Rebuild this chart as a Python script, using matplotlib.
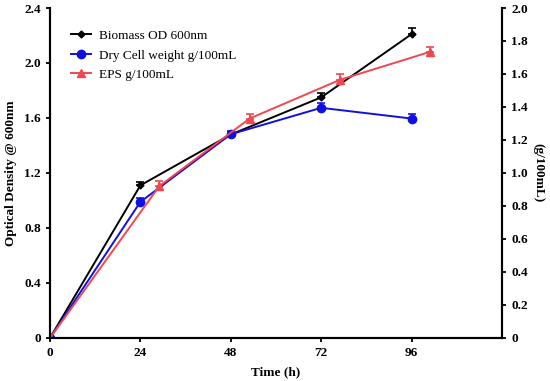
import numpy as np
import matplotlib.pyplot as plt

plt.rcParams['font.family'] = 'Liberation Serif'

# Biomass OD 600nm (left axis)
od_time = [0, 24, 48, 72, 96]
od_vals = [0, 1.11, 1.48, 1.75, 2.21]
od_err = [0, 0.025, 0.02, 0.035, 0.045]

# Dry cell weight g/100mL (right axis)
dcw_time = [0, 24, 48, 72, 96]
dcw_vals = [0, 0.825, 1.235, 1.395, 1.33]
dcw_err = [0, 0.025, 0.02, 0.03, 0.03]

# EPS g/100mL (right axis)
eps_time = [0, 29, 53, 77, 101]
eps_vals = [0, 0.92, 1.33, 1.565, 1.735]
eps_err = [0, 0.03, 0.03, 0.035, 0.03]

fig = plt.figure(figsize=(5.5, 3.81), dpi=100)
ax = fig.add_axes([0.0909, 0.1129, 0.8218, 0.8661])
ax2 = ax.twinx()

red = '#f0484e'
blue = '#1010e0'

h1 = ax.errorbar(od_time, od_vals, yerr=[np.zeros(5), od_err], color='black', marker='D',
                 markersize=3.5, lw=1.4, capsize=3, elinewidth=1.2, capthick=1.2,
                 zorder=3)
h2 = ax2.errorbar(dcw_time, dcw_vals, yerr=[np.zeros(5), dcw_err], color=blue, marker='o',
                  markersize=6, lw=1.4, capsize=3, elinewidth=1.2, capthick=1.2)
h3 = ax2.errorbar(eps_time, eps_vals, yerr=[np.zeros(5), eps_err], color=red, marker='^',
                  markersize=6, lw=1.4, capsize=3, elinewidth=1.2, capthick=1.2)

ax.set_xlim(0, 120)
ax.set_ylim(0, 2.4)
ax2.set_ylim(0, 2.0)
ax.set_xticks([0, 24, 48, 72, 96])
ax.set_yticks([0, 0.4, 0.8, 1.2, 1.6, 2.0, 2.4])
ax.set_yticklabels(['0', '0.4', '0.8', '1.2', '1.6', '2.0', '2.4'])
ax2.set_yticks(np.arange(0, 2.01, 0.2))
ax2.set_yticklabels(['0'] + [f'{v:.1f}' for v in np.arange(0.2, 2.01, 0.2)])

for a in (ax, ax2):
    a.spines['top'].set_visible(False)
    for s in a.spines.values():
        s.set_linewidth(1.5)
    a.tick_params(width=1.3, length=3, labelsize=9.5)
    for lbl in a.get_xticklabels() + a.get_yticklabels():
        lbl.set_fontweight('bold')

ax.set_xlabel('Time (h)', fontsize=9.5, fontweight='bold', labelpad=5)
ax.set_ylabel('Optical Density @ 600nm', fontsize=9.5, fontweight='bold', labelpad=5)
ax2.set_ylabel('(g/100mL)', fontsize=9.5, fontweight='bold', rotation=270, labelpad=12)

ax2.legend([h1[0], h2[0], h3[0]],
           ['Biomass OD 600nm', 'Dry Cell weight g/100mL', 'EPS g/100mL'],
           loc='upper left', bbox_to_anchor=(0.02, 0.97),
           frameon=False, fontsize=9.5, handlelength=1.5, handletextpad=0.6,
           labelspacing=0.55)

fig.savefig('out.png', dpi=100)
